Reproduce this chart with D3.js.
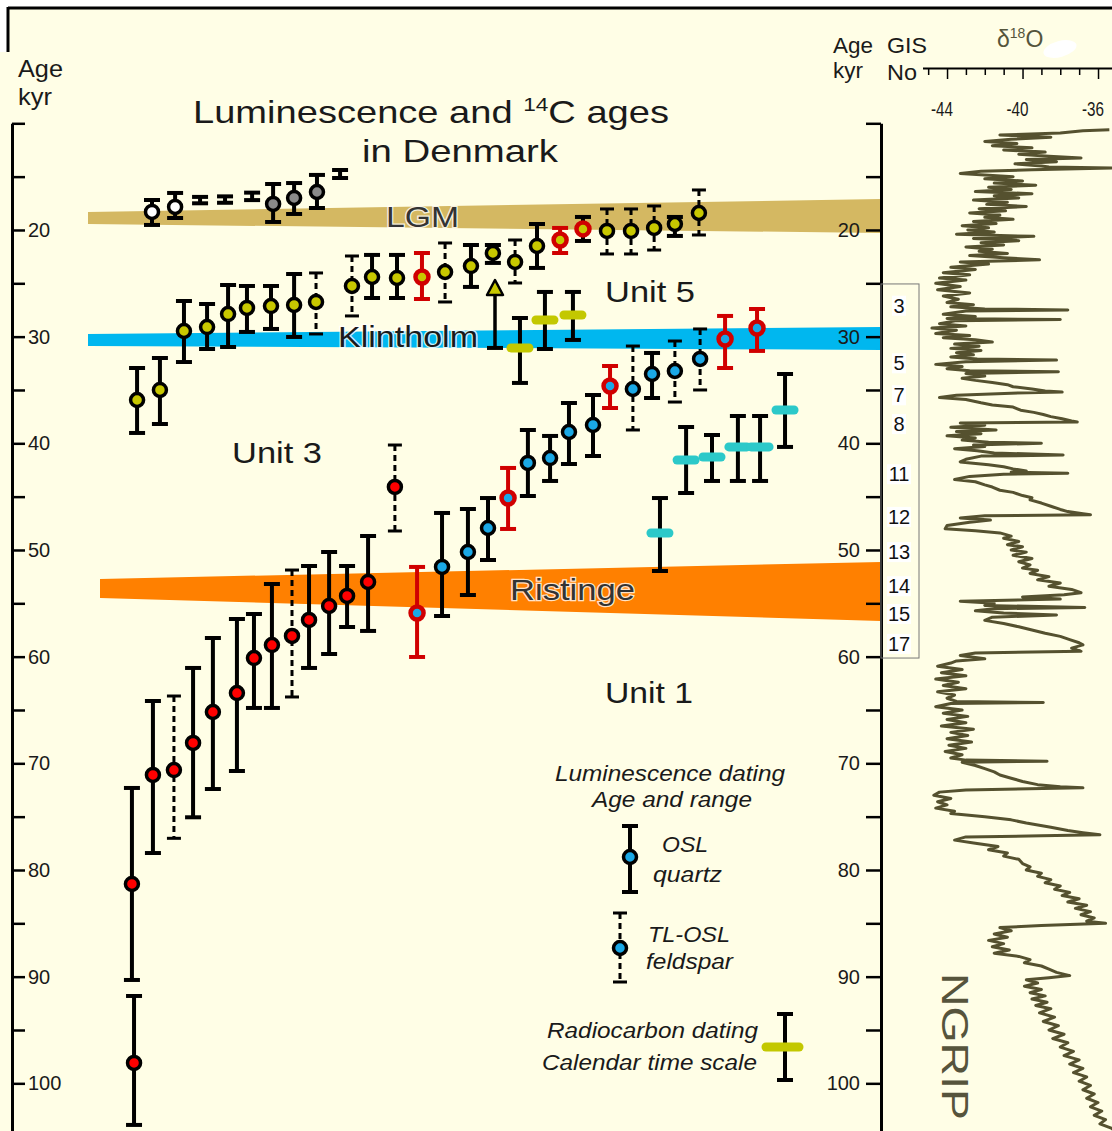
<!DOCTYPE html>
<html>
<head>
<meta charset="utf-8">
<script src="https://cdn.jsdelivr.net/npm/d3@7"></script>
<style>
  body { margin: 0; background: #fff; }
  svg { display: block; }
  text { font-family: "Liberation Sans", Arial, sans-serif; fill: #1a1a1a; }
</style>
</head>
<body>
<div id="chart"></div>
<script>
// ---- data -------------------------------------------------------------
// sample rows: [position, age kyr, min age, max age, method, flag]
// flag 0 = plain, 1 = red ring, 2 = red ring and red range
const whiteSamples = [[1.8,18.31,17.19,19.53,'OSL',0],[2.79,17.84,16.53,18.88,'OSL',0]];
const greySamples = [[6.99,17.56,15.69,19.25,'OSL',0],[7.89,17.0,15.6,18.5,'OSL',0],[8.87,16.44,14.84,17.94,'OSL',0]];
const rangeOnly = [[3.86,17.2,16.9,17.5],[4.93,17.15,16.85,17.45],[6.09,16.85,16.5,17.2],[9.86,14.75,14.38,15.13]];

const yellowSamples = [
  [1.16,35.94,32.94,39.03,'OSL',0],[2.14,35.0,32.0,38.19,'OSL',0],[3.17,29.47,26.66,32.38,'OSL',0],
  [4.16,29.1,26.94,31.16,'OSL',0],[5.06,27.88,25.16,30.97,'OSL',0],[5.87,27.31,25.25,29.56,'OSL',0],
  [6.9,27.13,25.25,29.28,'OSL',0],[7.89,27.03,24.13,30.03,'OSL',0],[8.83,26.75,24.03,29.75,'TL',0],
  [10.37,25.25,22.44,28.06,'TL',0],[11.23,24.41,22.34,26.38,'OSL',0],[12.3,24.5,22.34,26.38,'OSL',0],
  [13.37,24.41,22.16,26.47,'OSL',2],[14.36,23.94,21.22,26.75,'TL',0],[15.47,23.38,21.41,25.34,'OSL',0],
  [16.41,22.16,21.41,23.09,'OSL',0],[17.36,23.0,20.94,24.97,'TL',0],[18.3,21.5,19.44,23.56,'OSL',0],
  [19.29,20.94,19.81,22.16,'OSL',2],[20.27,19.9,18.78,21.03,'OSL',1],[21.3,20.09,18.03,22.25,'TL',0],
  [22.33,20.09,18.03,22.25,'TL',0],[23.32,19.81,17.75,21.88,'TL',0],[24.21,19.44,18.78,20.56,'OSL',0],
  [25.24,18.41,16.25,20.47,'TL',0]
];

const redSamples = [
  [0.94,81.31,72.31,90.31,'OSL',0],[1.03,98.09,91.81,103.9,'OSL',0],[1.84,71.09,64.16,78.41,'OSL',0],
  [2.74,70.63,63.69,77.03,'TL',0],[3.56,68.09,61.06,75.06,'OSL',0],[4.41,65.19,58.25,72.41,'OSL',0],
  [5.44,63.41,56.47,70.72,'OSL',0],[6.17,60.13,56.0,64.81,'OSL',0],[6.94,58.91,53.19,64.81,'OSL',0],
  [7.8,58.06,51.88,63.78,'TL',0],[8.53,56.56,51.5,61.06,'OSL',0],[9.39,55.25,50.19,59.75,'OSL',0],
  [10.16,54.31,51.5,57.22,'OSL',0],[11.06,53.0,48.69,57.59,'OSL',0],[12.21,44.09,40.16,48.22,'TL',0]
];

const blueSamples = [
  [13.16,55.91,51.59,60.03,'OSL',2],[14.23,51.59,46.53,56.19,'OSL',0],[15.34,50.19,46.16,54.22,'OSL',0],
  [16.2,47.94,45.13,50.94,'OSL',0],[17.06,45.13,42.31,48.03,'OSL',2],[17.91,41.84,38.75,44.94,'OSL',0],
  [18.86,41.38,39.31,43.53,'OSL',0],[19.67,38.94,36.22,41.94,'OSL',0],[20.7,38.28,35.47,41.19,'OSL',0],
  [21.43,34.63,32.75,36.69,'OSL',2],[22.41,34.91,30.88,38.75,'TL',0],[23.23,33.5,31.53,35.75,'OSL',0],
  [24.21,33.22,30.41,36.13,'TL',0],[25.29,32.09,29.28,35.0,'TL',0],[26.36,30.22,28.06,32.94,'OSL',2],
  [27.73,29.19,27.41,31.34,'OSL',2]
];

// minimum age: [position, lower limit, arrow tip]
const minAgeArrow = [[16.5,31.06,24.69]];

// radiocarbon, calendar ages: [position, age, min, max]
const c14Olive = [[17.57,31.06,28.25,34.34],[18.64,28.44,25.81,31.16],[19.84,27.97,25.81,30.31]];
const c14Teal = [[23.57,48.41,45.13,51.97],[24.69,41.56,38.47,44.66],[25.8,41.28,39.22,43.53],
                 [26.91,40.34,37.44,43.53],[27.86,40.34,37.44,43.53],[28.93,36.88,33.5,40.34]];

const bandNames = ['LGM','Klintholm','Ristinge'];
const bandAgeLeft = [[18.31,19.44],[29.75,30.87],[52.72,54.5]];
const bandAgeRight = [[17.1,20.28],[29.09,31.25],[51.13,56.66]];

const gisNumbers = ['3','5','7','8','11','12','13','14','15','17'];
const gisAges = [27.1,32.5,35.5,38.2,42.9,46.9,50.2,53.4,56.0,58.8];
const gisBox = [25.06,60.13];

const ageTicks = [10,15,20,25,30,35,40,45,50,55,60,65,70,75,80,85,90,95,100];
const ageLabels = [20,30,40,50,60,70,80,90,100];
const d18OTicks = [-45,-44,-43,-42,-41,-40,-39,-38,-37,-36,-35];
const d18OLabels = [-44,-40,-36];

// NGRIP d18O record: [age kyr, permil]
const ngrip = [
  [10.6,-35.4],[10.7,-36.8],[10.9,-38.0],[11.1,-41.2],[11.3,-38.5],[11.5,-40.6],[11.7,-42.0],[11.9,-40.3],
  [12.1,-41.6],[12.3,-39.5],[12.5,-41.0],[12.7,-38.8],[12.9,-40.2],[13.1,-38.6],[13.25,-36.9],[13.4,-39.8],
  [13.6,-38.2],[13.8,-40.4],[14.0,-39.0],[14.1,-38.6],[14.2,-35.2],[14.35,-39.5],[14.5,-42.2],[14.7,-43.3],
  [15.0,-40.5],[15.2,-42.0],[15.4,-40.0],[15.6,-41.5],[15.8,-39.3],[16.0,-41.8],[16.2,-40.6],[16.4,-42.5],
  [16.6,-39.5],[16.8,-41.5],[17.0,-40.2],[17.2,-42.6],[17.4,-40.8],[17.6,-41.9],[17.8,-39.8],[18.0,-42.3],
  [18.2,-40.9],[18.4,-42.8],[18.6,-41.2],[18.8,-42.0],[19.0,-40.5],[19.2,-42.6],[19.4,-41.4],[19.6,-43.2],
  [19.8,-41.8],[20.0,-42.9],[20.2,-41.5],[20.4,-43.5],[20.6,-39.4],[20.8,-42.6],[21.0,-40.2],[21.2,-42.2],
  [21.4,-41.0],[21.6,-43.0],[21.8,-41.6],[22.0,-42.3],[22.2,-40.8],[22.4,-42.8],[22.6,-41.0],[22.8,-39.1],
  [23.0,-43.3],[23.2,-41.8],[23.5,-43.8],[23.7,-42.5],[24.0,-44.2],[24.2,-42.8],[24.5,-44.4],[24.7,-43.0],
  [25.0,-44.6],[25.3,-43.3],[25.6,-44.5],[25.9,-42.8],[26.2,-44.2],[26.5,-43.4],[26.8,-44.0],[27.0,-42.6],
  [27.2,-43.8],[27.4,-42.0],[27.5,-37.6],[27.6,-43.0],[27.9,-44.2],[28.1,-42.5],[28.3,-44.0],[28.4,-38.0],
  [28.5,-43.5],[28.8,-44.4],[29.0,-43.0],[29.2,-44.8],[29.4,-43.5],[29.7,-44.6],[29.9,-42.8],[30.1,-44.2],
  [30.3,-42.5],[30.5,-41.6],[30.7,-43.6],[30.9,-42.3],[31.1,-43.8],[31.3,-42.2],[31.5,-43.5],[31.7,-42.6],
  [31.9,-43.8],[32.1,-42.4],[32.2,-38.2],[32.35,-43.0],[32.6,-44.6],[32.8,-43.2],[33.0,-44.0],[33.2,-42.8],
  [33.3,-38.1],[33.45,-43.0],[33.7,-42.0],[33.9,-43.2],[34.1,-42.5],[34.3,-41.6],[34.5,-40.8],[34.7,-40.5],
  [34.9,-39.5],[35.1,-38.8],[35.2,-37.9],[35.3,-40.6],[35.5,-43.5],[35.7,-44.4],[35.9,-43.0],[36.2,-42.2],
  [36.4,-41.6],[36.6,-40.5],[36.9,-40.1],[37.1,-39.4],[37.3,-38.9],[37.5,-38.5],[37.7,-37.9],[37.9,-37.4],
  [38.0,-37.1],[38.1,-43.3],[38.3,-42.0],[38.5,-43.8],[38.75,-41.4],[38.9,-43.5],[39.1,-42.2],[39.3,-44.0],
  [39.5,-42.5],[39.7,-43.2],[39.9,-41.8],[40.0,-39.0],[40.15,-42.6],[40.3,-42.0],[40.5,-43.6],[40.7,-42.4],
  [40.9,-41.5],[41.1,-37.85],[41.2,-42.2],[41.5,-43.0],[41.75,-43.3],[42.0,-41.8],[42.2,-41.0],[42.4,-40.5],
  [42.6,-39.8],[42.7,-40.6],[42.8,-37.6],[42.9,-41.0],[43.1,-42.8],[43.4,-43.6],[43.6,-42.5],[43.9,-42.0],
  [44.1,-41.6],[44.4,-41.2],[44.6,-40.5],[44.9,-40.0],[45.1,-39.5],[45.3,-39.6],[45.6,-39.0],[45.9,-38.5],
  [46.2,-38.0],[46.4,-37.6],[46.6,-36.8],[46.7,-36.4],[46.8,-42.0],[47.0,-43.3],[47.2,-41.7],[47.4,-42.8],
  [47.7,-44.0],[48.0,-44.1],[48.2,-42.5],[48.4,-41.2],[48.7,-40.6],[48.9,-41.0],[49.2,-40.2],[49.5,-40.8],
  [49.7,-40.0],[50.0,-40.6],[50.2,-39.8],[50.5,-40.5],[50.8,-39.5],[51.1,-40.2],[51.4,-39.6],[51.7,-40.0],
  [51.9,-39.2],[52.2,-39.6],[52.5,-38.6],[52.8,-39.2],[53.1,-38.0],[53.4,-38.6],[53.7,-37.4],[54.0,-36.9],
  [54.2,-37.8],[54.4,-40.0],[54.6,-38.0],[54.8,-43.3],[55.0,-41.5],[55.2,-42.0],[55.4,-36.7],[55.5,-41.5],
  [55.7,-42.5],[55.9,-41.0],[56.1,-38.2],[56.3,-41.6],[56.6,-42.0],[56.9,-41.0],[57.2,-40.2],[57.5,-39.5],
  [57.8,-38.8],[58.1,-38.0],[58.4,-37.5],[58.7,-37.0],[58.9,-36.8],[59.2,-37.4],[59.5,-36.9],[59.65,-42.5],
  [59.9,-43.3],[60.2,-42.0],[60.4,-43.5],[60.6,-43.8],[60.9,-44.5],[61.2,-43.2],[61.5,-44.3],[61.8,-43.0],
  [62.1,-44.6],[62.4,-43.4],[62.7,-44.2],[63.0,-43.0],[63.3,-44.5],[63.6,-43.6],[63.9,-44.0],[64.2,-43.5],
  [64.3,-38.9],[64.4,-43.8],[64.7,-44.6],[65.0,-43.2],[65.3,-44.2],[65.6,-42.9],[65.9,-44.0],[66.2,-43.0],
  [66.5,-44.3],[66.8,-42.6],[67.1,-43.8],[67.4,-42.9],[67.7,-44.0],[68.0,-42.7],[68.3,-43.9],[68.6,-43.0],
  [68.9,-44.1],[69.2,-43.2],[69.5,-43.8],[69.7,-43.0],[69.8,-38.7],[69.9,-43.2],[70.2,-42.5],[70.5,-42.0],
  [70.8,-41.5],[71.1,-41.2],[71.4,-40.6],[71.7,-40.0],[72.0,-39.2],[72.2,-38.0],[72.3,-36.8],[72.5,-43.0],
  [72.7,-44.4],[73.0,-44.7],[73.3,-43.8],[73.6,-44.5],[73.9,-44.0],[74.2,-44.6],[74.5,-43.6],[74.7,-43.8],
  [75.0,-42.0],[75.3,-40.6],[75.6,-39.8],[76.0,-38.5],[76.3,-37.6],[76.5,-36.8],[76.7,-35.9],[76.8,-39.0],
  [76.9,-43.0],[77.2,-43.6],[77.5,-42.5],[77.8,-41.3],[78.1,-41.8],[78.4,-40.8],[78.7,-41.0],[79.0,-40.2],
  [79.4,-40.0],[79.7,-39.6],[80.0,-39.8],[80.3,-39.0],[80.6,-39.2],[80.9,-38.5],[81.2,-38.8],[81.5,-38.0],
  [81.8,-38.3],[82.1,-37.5],[82.4,-37.9],[82.7,-37.0],[83.0,-37.6],[83.3,-36.6],[83.6,-37.2],[83.9,-36.4],
  [84.2,-36.9],[84.5,-36.2],[84.8,-36.6],[85.0,-35.6],[85.2,-39.0],[85.4,-41.2],[85.7,-40.6],[86.0,-41.5],
  [86.3,-40.8],[86.6,-41.8],[86.9,-41.0],[87.2,-41.6],[87.5,-40.7],[87.8,-41.5],[88.1,-40.2],[88.4,-39.6],
  [88.7,-39.9],[89.0,-39.0],[89.3,-38.6],[89.6,-38.2],[89.9,-37.5],[90.1,-38.6],[90.3,-39.8],[90.6,-39.2],
  [90.9,-39.9],[91.2,-39.0],[91.5,-39.6],[91.8,-38.8],[92.1,-39.5],[92.4,-38.7],[92.7,-39.3],[93.0,-38.5],
  [93.4,-39.1],[93.8,-38.3],[94.2,-38.9],[94.6,-38.1],[95.0,-38.6],[95.4,-37.8],[95.8,-38.4],[96.2,-37.6],
  [96.6,-38.0],[97.0,-37.3],[97.4,-37.8],[97.8,-37.0],[98.2,-37.5],[98.6,-36.8],[99.0,-37.3],[99.4,-36.6],
  [99.8,-37.0],[100.2,-36.4],[100.6,-36.8],[101.0,-36.2],[101.4,-36.6],[101.8,-36.0],[102.2,-36.4],[102.6,-35.8],
  [103.0,-36.2],[103.4,-35.6],[103.8,-35.9],[104.2,-35.3],[104.6,-35.0]
];

// ---- layout -----------------------------------------------------------
const W = 1112, H = 1131;
const leftAxisX = 12, rightAxisX = 881;
const MARK = '#d00000';
const colors = {
  white: '#ffffff', grey: '#8a8a8a', yellow: '#c8c800', red: '#ff0000', blue: '#1aa8e6',
  olive: '#c3c800', teal: '#2cc9c9', curve: '#55512f'
};
const bandColors = ['#d4b862', '#00b7ef', '#ff8000'];
const bandStartX = [88, 88, 100];

const svg = d3.select('#chart').append('svg').attr('width', W).attr('height', H);

const xs = d3.scaleLinear().domain([0, 30]).range([110, 810]);
const ys = d3.scaleLinear().domain([10, 104.6]).range([123.3, 1132.4]);
const xd = d3.scaleLinear().domain([-45.3, -34.2]).range([922.5, 1132]);

// background and frame
svg.append('rect').attr('width', W).attr('height', H).attr('fill', '#fffee6');
svg.append('rect').attr('width', W).attr('height', 8).attr('fill', '#fff');
svg.append('rect').attr('width', 8).attr('height', 52).attr('fill', '#fff');
svg.append('line').attr('x1', 8).attr('x2', W).attr('y1', 8).attr('y2', 8).attr('stroke', '#000').attr('stroke-width', 3);
svg.append('line').attr('x1', 8).attr('x2', 8).attr('y1', 7).attr('y2', 52).attr('stroke', '#000').attr('stroke-width', 3);

function txt(str, x, y, size, len, opts = {}) {
  const t = svg.append('text').attr('x', x).attr('y', y).attr('font-size', size).text(str);
  if (len) t.attr('textLength', len).attr('lengthAdjust', 'spacingAndGlyphs');
  if (opts.italic) t.attr('font-style', 'italic');
  if (opts.fill) t.style('fill', opts.fill);
  if (opts.halo) t.attr('stroke', '#fff').attr('stroke-width', 2.5).attr('stroke-opacity', 0.8).attr('paint-order', 'stroke');
  return t;
}

// bands
bandNames.forEach((name, i) => {
  const x0 = bandStartX[i], x1 = rightAxisX;
  const pts = [[x0, ys(bandAgeLeft[i][0])], [x1, ys(bandAgeRight[i][0])],
               [x1, ys(bandAgeRight[i][1])], [x0, ys(bandAgeLeft[i][1])]];
  svg.append('path').attr('d', 'M' + pts.join('L') + 'Z').attr('fill', bandColors[i]);
});
txt('LGM', 386, 227, 30, 73, {halo: true, fill: '#333'});
txt('Klintholm', 338, 347, 29, 140, {halo: true});
txt('Ristinge', 510, 600, 30, 125, {halo: true, fill: '#333'});

// titles
const t1 = svg.append('text').attr('x', 193).attr('y', 123).attr('font-size', 32)
  .attr('textLength', 476).attr('lengthAdjust', 'spacingAndGlyphs');
t1.append('tspan').text('Luminescence and ');
t1.append('tspan').attr('font-size', 19).attr('dy', -12).text('14');
t1.append('tspan').attr('dy', 12).text('C ages');
txt('in Denmark', 362, 162, 32, 196);
txt('Age', 18, 77, 24, 45);
txt('kyr', 18, 105, 24, 34);
txt('Unit 5', 605, 302, 30, 90);
txt('Unit 3', 232, 463, 30, 90);
txt('Unit 1', 605, 703, 30, 88);

// axes
const axL = svg.append('g').attr('transform', `translate(${leftAxisX},0)`)
  .call(d3.axisRight(ys).tickValues(ageTicks).tickSize(13).tickSizeOuter(0).tickPadding(3)
    .tickFormat(d => ageLabels.includes(d) ? d : ''));
const axR = svg.append('g').attr('transform', `translate(${rightAxisX},0)`)
  .call(d3.axisLeft(ys).tickValues(ageTicks).tickSize(15).tickSizeOuter(0).tickPadding(6)
    .tickFormat(d => ageLabels.includes(d) ? d : ''));
[axL, axR].forEach(a => {
  a.select('.domain').attr('stroke-width', 3);
  a.selectAll('.tick line').attr('stroke-width', 2.5);
  a.selectAll('.tick text').attr('font-size', 20).attr('font-family', '"Liberation Sans", Arial, sans-serif').style('fill', '#1a1a1a');
});

// range bar helper
function rangeBar(g, x, y1, y2, dashed, color) {
  const w = dashed ? 7 : 8;
  g.append('line').attr('x1', x).attr('x2', x).attr('y1', y1).attr('y2', y2)
    .attr('stroke', color).attr('stroke-width', dashed ? 3 : 4)
    .attr('stroke-dasharray', dashed ? '6,4' : null);
  [y1, y2].forEach(yy => g.append('line').attr('x1', x - w).attr('x2', x + w)
    .attr('y1', yy).attr('y2', yy).attr('stroke', color).attr('stroke-width', dashed ? 3 : 4));
}
function dot(g, x, y, fill, ring) {
  g.append('circle').attr('cx', x).attr('cy', y).attr('r', 6.5).attr('fill', fill)
    .attr('stroke', ring ? MARK : '#000').attr('stroke-width', ring ? 4.5 : 3.5);
}

function drawSamples(rows, fill) {
  svg.append('g').selectAll('g').data(rows).join('g').each(function (d) {
    const g = d3.select(this), cx = xs(d[0]);
    rangeBar(g, cx, ys(d[2]), ys(d[3]), d[4] === 'TL', d[5] === 2 ? MARK : '#000');
    if (fill) dot(g, cx, ys(d[1]), fill, d[5] > 0);
  });
}
function drawC14(rows, color) {
  svg.append('g').selectAll('g').data(rows).join('g').each(function (d) {
    const g = d3.select(this), cx = xs(d[0]);
    rangeBar(g, cx, ys(d[2]), ys(d[3]), false, '#000');
    g.append('line').attr('x1', cx - 9).attr('x2', cx + 9).attr('y1', ys(d[1])).attr('y2', ys(d[1]))
      .attr('stroke', color).attr('stroke-width', 9).attr('stroke-linecap', 'round');
  });
}

drawC14(c14Olive, colors.olive);
drawC14(c14Teal, colors.teal);

// minimum-age arrow
svg.append('g').selectAll('g').data(minAgeArrow).join('g').each(function (d) {
  const g = d3.select(this), cx = xs(d[0]), yb = ys(d[1]), yt = ys(d[2]);
  g.append('line').attr('x1', cx).attr('x2', cx).attr('y1', yb).attr('y2', yt + 14)
    .attr('stroke', '#000').attr('stroke-width', 3.5);
  g.append('line').attr('x1', cx - 8).attr('x2', cx + 8).attr('y1', yb).attr('y2', yb)
    .attr('stroke', '#000').attr('stroke-width', 4);
  g.append('path').attr('d', `M${cx},${yt}L${cx + 8},${yt + 15}L${cx - 8},${yt + 15}Z`)
    .attr('fill', colors.yellow).attr('stroke', '#000').attr('stroke-width', 2.5).attr('stroke-linejoin', 'round');
});

drawSamples(rangeOnly, null);
drawSamples(whiteSamples, colors.white);
drawSamples(greySamples, colors.grey);
drawSamples(yellowSamples, colors.yellow);
drawSamples(redSamples, colors.red);
drawSamples(blueSamples, colors.blue);

// legend
const lg = svg.append('g');
txt('Luminescence dating', 555, 781, 22, 230, {italic: true});
txt('Age and range', 592, 807, 22, 160, {italic: true});
rangeBar(lg, 630, 826, 892, false, '#000');
dot(lg, 630, 857, colors.blue, false);
txt('OSL', 662, 852, 22, 46, {italic: true});
txt('quartz', 653, 882, 22, 69, {italic: true});
rangeBar(lg, 620, 913, 982, true, '#000');
dot(lg, 620, 948, colors.blue, false);
txt('TL-OSL', 648, 942, 22, 82, {italic: true});
txt('feldspar', 646, 969, 22, 87, {italic: true});
txt('Radiocarbon dating', 547, 1038, 22, 211, {italic: true});
txt('Calendar time scale', 542, 1070, 22, 215, {italic: true});
rangeBar(lg, 785, 1014, 1080, false, '#000');
lg.append('line').attr('x1', 766).attr('x2', 799).attr('y1', 1047).attr('y2', 1047)
  .attr('stroke', colors.olive).attr('stroke-width', 9).attr('stroke-linecap', 'round');

// GIS numbers
svg.append('rect').attr('x', rightAxisX).attr('y', ys(gisBox[0])).attr('width', 38)
  .attr('height', ys(gisBox[1]) - ys(gisBox[0])).attr('fill', 'none').attr('stroke', '#777').attr('stroke-width', 1);
const gis = svg.append('g').selectAll('g').data(gisNumbers).join('g')
  .attr('transform', (d, i) => `translate(${rightAxisX + 18},${ys(gisAges[i])})`);
gis.append('rect').attr('x', d => d.length > 1 ? -12 : -7).attr('y', -10)
  .attr('width', d => d.length > 1 ? 24 : 14).attr('height', 20).attr('fill', '#fff');
gis.append('text').attr('text-anchor', 'middle').attr('dy', 7).attr('font-size', 20)
  .style('fill', '#111').text(d => d);

// right panel header
txt('Age', 833, 53, 22, 40);
txt('kyr', 833, 78, 22, 30);
txt('GIS', 887, 53, 22, 40);
txt('No', 887, 80, 22, 30);
const dt = svg.append('text').attr('x', 997).attr('y', 47)
  .attr('font-family', '"Liberation Serif", "Times New Roman", serif').style('fill', '#55553c');
dt.append('tspan').attr('font-size', 23).text('δ');
dt.append('tspan').attr('font-size', 14).attr('dy', -9).text('18');
dt.append('tspan').attr('font-size', 23).attr('dy', 9).text('O');
svg.append('ellipse').attr('cx', 1060).attr('cy', 49).attr('rx', 17).attr('ry', 8)
  .attr('transform', 'rotate(-15,1060,49)').attr('fill', '#fff');

const axD = svg.append('g').attr('transform', 'translate(0,68)')
  .call(d3.axisBottom(xd).tickValues(d18OTicks).tickSize(7).tickSizeOuter(0).tickFormat(''));
axD.select('.domain').attr('stroke-width', 2);
axD.selectAll('.tick line').attr('stroke-width', 1.5)
  .attr('y2', d => d18OLabels.includes(d) ? 11 : 7);
svg.append('g').selectAll('text').data(d18OLabels).join('text')
  .attr('x', d => xd(d) - 5).attr('y', 116).attr('text-anchor', 'middle')
  .attr('font-size', 20).attr('textLength', 22).attr('lengthAdjust', 'spacingAndGlyphs')
  .text(d => String(d));

// NGRIP curve
svg.append('clipPath').attr('id', 'ngclip').append('rect')
  .attr('x', 915).attr('y', 122).attr('width', W - 915).attr('height', H - 122);
svg.append('path').datum(ngrip)
  .attr('clip-path', 'url(#ngclip)')
  .attr('d', d3.line().x(d => xd(d[1])).y(d => ys(d[0])))
  .attr('fill', 'none').attr('stroke', colors.curve).attr('stroke-width', 3).attr('stroke-linejoin', 'round');

svg.append('text').attr('transform', 'translate(942,973) rotate(90)')
  .attr('font-size', 36).attr('textLength', 147).attr('lengthAdjust', 'spacingAndGlyphs')
  .style('fill', '#56543c').text('NGRIP');
</script>
</body>
</html>
